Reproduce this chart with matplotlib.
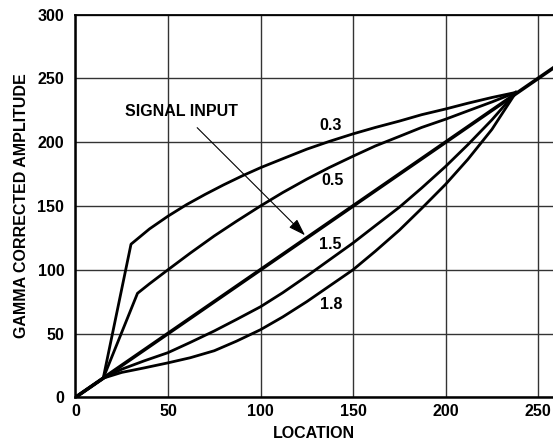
import matplotlib.pyplot as plt

plt.rcParams['font.family'] = ['Liberation Sans', 'DejaVu Sans']
plt.rcParams['font.weight'] = 'bold'

# signal input (straight line) and the gamma curves
signal_x = [0, 260]
signal_y = [0, 260]

g03_x = [0, 15, 30, 35, 40, 45, 50, 60, 70, 80, 90, 100, 112, 125, 137,
         150, 162, 175, 187, 200, 212, 225, 238]
g03_y = [0, 15, 120, 126, 132, 137, 142, 151, 159, 166.5, 173.5, 180, 187,
         194.5, 200.5, 206.5, 211.5, 216.5, 221.5, 226, 230.5, 235, 239]

g05_x = [0, 15, 33.5, 40, 50, 62, 75, 87, 100, 112, 125, 137, 150, 162,
         175, 187, 200, 212, 225, 238]
g05_y = [0, 15, 81.5, 89, 100, 113, 126.5, 138, 150, 160.5, 171, 180, 189,
         197, 204.5, 211.5, 218, 224.5, 231.5, 239]

g15_x = [0, 15, 25, 37, 50, 62, 75, 87, 100, 112, 125, 137, 150, 162, 175,
         187, 200, 212, 225, 238]
g15_y = [0, 15, 22, 28.5, 35, 43, 52, 61, 71, 82, 95, 107.5, 121, 134.5, 149,
         164, 181, 198, 217.5, 239]

g18_x = [0, 15, 25, 37, 50, 62, 75, 87, 100, 112, 125, 137, 150, 162, 175,
         187, 200, 212, 225, 238]
g18_y = [0, 15, 19.5, 23, 27, 31, 36.5, 44, 53, 63, 75, 87, 100, 114.5, 131,
         148, 167, 186.5, 210, 239]

curve_labels = ['0.3', '0.5', '1.5', '1.8']
label_pos = [(138, 213), (139, 170), (137.5, 119.5), (138, 73)]

x_ticks = [0, 50, 100, 150, 200, 250]
y_ticks = [0, 50, 100, 150, 200, 250, 300]

fig = plt.figure(figsize=(5.53, 4.44), dpi=100)
ax = fig.add_axes([0.1365, 0.1052, 0.8635, 0.862])

for xs, ys in [(g03_x, g03_y), (g05_x, g05_y), (g15_x, g15_y), (g18_x, g18_y)]:
    ax.plot(xs, ys, color='black', lw=2.0, solid_joinstyle='round', zorder=3)
ax.plot(signal_x, signal_y, color='black', lw=2.6, zorder=4)

for txt, (tx, ty) in zip(curve_labels, label_pos):
    ax.text(tx, ty, txt, ha='center', va='center', fontsize=11.5,
            fontweight='bold', zorder=5)

# arrow pointing at the signal line
ax.annotate('SIGNAL INPUT', xy=(124, 127), xytext=(57, 224),
            ha='center', va='center', fontsize=11.5, fontweight='bold',
            arrowprops=dict(arrowstyle='-|>,head_length=0.9,head_width=0.3',
                            color='black', lw=0.8, shrinkA=6, shrinkB=0),
            zorder=5)

ax.set_xlim(0, 258)
ax.set_ylim(0, 300)
ax.set_xticks(x_ticks)
ax.set_yticks(y_ticks)
ax.tick_params(length=0, labelsize=11.5)
ax.tick_params(axis='x', pad=5)
ax.tick_params(axis='y', pad=8)
ax.grid(True, color='#333333', lw=1.0)
ax.set_axisbelow(True)

ax.spines['right'].set_visible(False)
ax.spines['left'].set_linewidth(1.8)
ax.spines['bottom'].set_linewidth(1.8)
ax.spines['top'].set_linewidth(1.3)

ax.set_xlabel('LOCATION', fontsize=11.5, fontweight='bold', labelpad=5)
ax.set_ylabel('GAMMA CORRECTED AMPLITUDE', fontsize=11.5, fontweight='bold',
              labelpad=6)

fig.savefig('out.png', dpi=100)
